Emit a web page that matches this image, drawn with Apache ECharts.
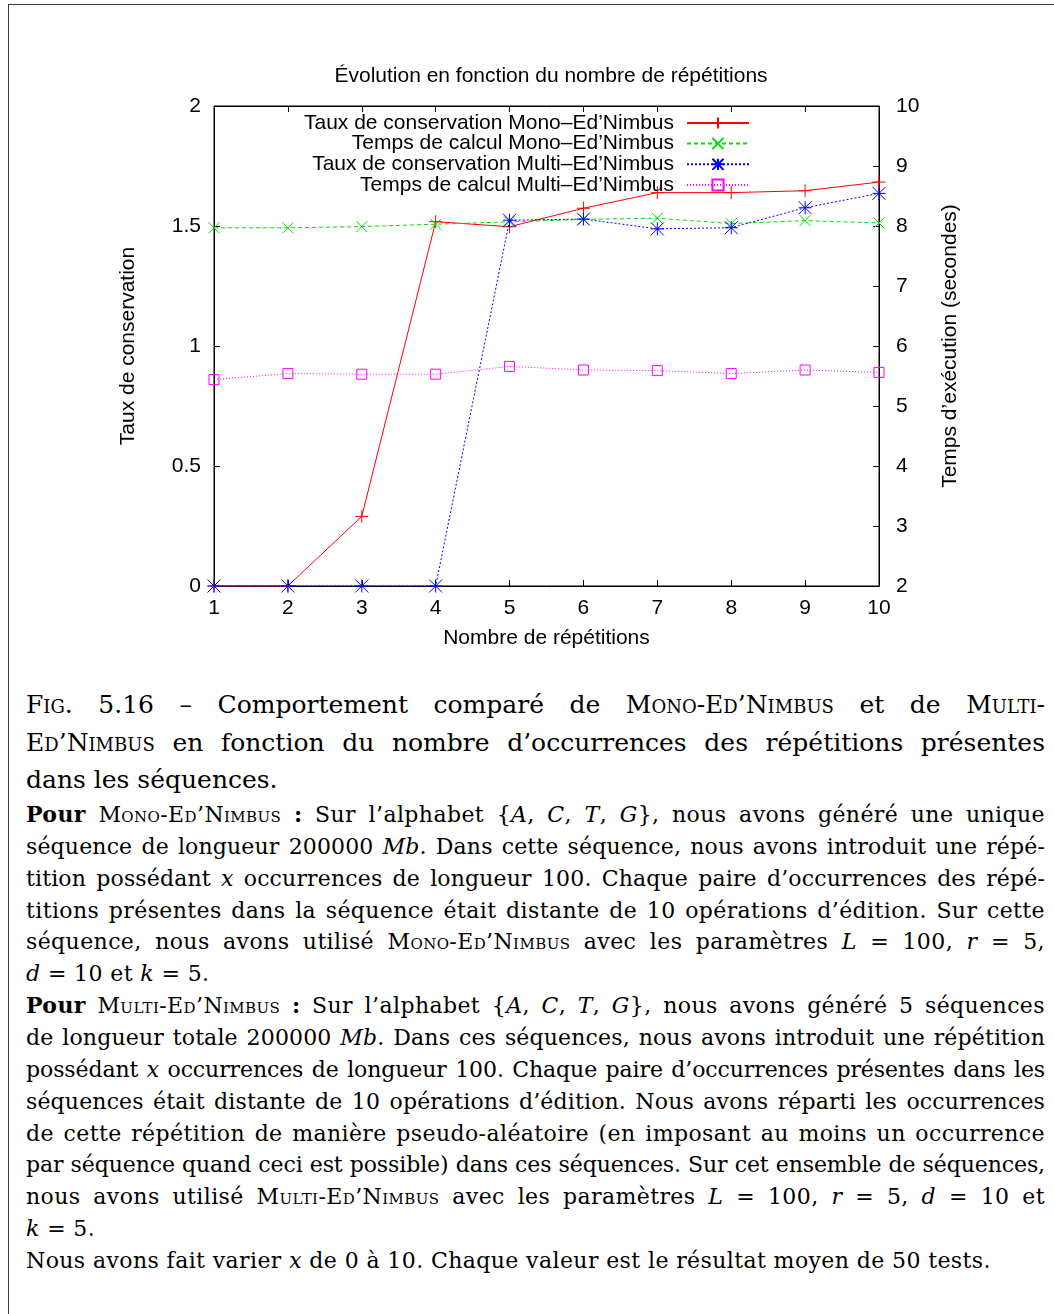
<!DOCTYPE html>
<html>
<head>
<meta charset="utf-8">
<script src="https://cdn.jsdelivr.net/npm/echarts@6/dist/echarts.min.js"></script>
<style>
  html, body { margin: 0; padding: 0; background: #fff; }
  body { width: 1054px; height: 1314px; position: relative; overflow: hidden; }
  #frame { position: absolute; left: 8px; top: 4px; right: -10px; bottom: -10px;
           border-top: 1.5px solid #3a3a3a; border-left: 1.5px solid #3a3a3a; }
  #chart { position: absolute; left: 0; top: 0; width: 1054px; height: 670px; }
  .txt { position: absolute; left: 26px; width: 1019px; font-family: "DejaVu Serif", serif; color: #000; }
  .txt div { text-align: justify; text-align-last: justify; white-space: nowrap; }
  .txt div.l { text-align-last: left; }
  #cap { top: 686px; font-size: 25px; line-height: 37.5px; }
  #body { top: 799px; font-size: 22px; letter-spacing: 0.4px; line-height: 31.86px; }
  #body div.t { letter-spacing: -0.1px; }
  #body div.m { letter-spacing: 0.15px; }
  .sc { font-variant: small-caps; }
  i { font-style: italic; }
</style>
</head>
<body>
<div id="frame"></div>
<div id="chart"></div>
<div class="txt" id="cap">
  <div><span class="sc">Fig.</span> 5.16 – Comportement comparé de <span class="sc">Mono-Ed’Nimbus</span> et de <span class="sc">Multi-</span></div>
  <div><span class="sc">Ed’Nimbus</span> en fonction du nombre d’occurrences des répétitions présentes</div>
  <div class="l">dans les séquences.</div>
</div>
<div class="txt" id="body">
  <div><b>Pour</b> <span class="sc">Mono-Ed’Nimbus</span> <b>:</b> Sur l’alphabet {<i>A</i>, <i>C</i>, <i>T</i>, <i>G</i>}, nous avons généré une unique</div>
  <div class="m">séquence de longueur 200000 <i>Mb</i>. Dans cette séquence, nous avons introduit une répé-</div>
  <div class="m">tition possédant <i>x</i> occurrences de longueur 100. Chaque paire d’occurrences des répé-</div>
  <div>titions présentes dans la séquence était distante de 10 opérations d’édition. Sur cette</div>
  <div>séquence, nous avons utilisé <span class="sc">Mono-Ed’Nimbus</span> avec les paramètres <i>L</i> = 100, <i>r</i> = 5,</div>
  <div class="l"><i>d</i> = 10 et <i>k</i> = 5.</div>
  <div><b>Pour</b> <span class="sc">Multi-Ed’Nimbus</span> <b>:</b> Sur l’alphabet {<i>A</i>, <i>C</i>, <i>T</i>, <i>G</i>}, nous avons généré 5 séquences</div>
  <div class="m">de longueur totale 200000 <i>Mb</i>. Dans ces séquences, nous avons introduit une répétition</div>
  <div class="t">possédant <i>x</i> occurrences de longueur 100. Chaque paire d’occurrences présentes dans les</div>
  <div class="m">séquences était distante de 10 opérations d’édition. Nous avons réparti les occurrences</div>
  <div>de cette répétition de manière pseudo-aléatoire (en imposant au moins un occurrence</div>
  <div class="t">par séquence quand ceci est possible) dans ces séquences. Sur cet ensemble de séquences,</div>
  <div>nous avons utilisé <span class="sc">Multi-Ed’Nimbus</span> avec les paramètres <i>L</i> = 100, <i>r</i> = 5, <i>d</i> = 10 et</div>
  <div class="l"><i>k</i> = 5.</div>
  <div class="l">Nous avons fait varier <i>x</i> de 0 à 10. Chaque valeur est le résultat moyen de 50 tests.</div>
</div>
<script>
// ---- data ----
const repetitions = [1, 2, 3, 4, 5, 6, 7, 8, 9, 10];
const tauxMono   = [0, 0, 0.29, 1.518, 1.497, 1.574, 1.639, 1.639, 1.647, 1.683];
const tempsMono  = [7.97, 7.97, 7.99, 8.03, 8.07, 8.11, 8.13, 8.04, 8.09, 8.05];
const tauxMulti  = [0, 0, 0, 0, 1.524, 1.529, 1.488, 1.493, 1.576, 1.636];
const tempsMulti = [5.44, 5.54, 5.53, 5.53, 5.66, 5.60, 5.59, 5.54, 5.60, 5.56];
const seriesNames = [
  'Taux de conservation Mono–Ed’Nimbus',
  'Temps de calcul Mono–Ed’Nimbus',
  'Taux de conservation Multi–Ed’Nimbus',
  'Temps de calcul Multi–Ed’Nimbus'
];
const leftTicks = { min: 0, max: 2, interval: 0.5 };
const rightTicks = { min: 2, max: 10, interval: 1 };
const xTicks = { min: 1, max: 10, interval: 1 };

// ---- chart ----
const FONT = '"Liberation Sans", Arial, sans-serif';
const FS = 21;
const pairs = arr => repetitions.map((x, i) => [x, arr[i]]);
const PLUS = 'path://M0,5L10,5M5,0L5,10';
const CROSS = 'path://M0,0L10,10M10,0L0,10';
const STAR = 'path://M0,5L10,5M5,0L5,10M0,0L10,10M10,0L0,10';
const SQUARE = 'path://M0,0L10,0L10,10L0,10Z';
const colors = ['#ff0000', '#00e000', '#0000ff', '#ff00ff'];
const symbols = [PLUS, CROSS, STAR, SQUARE];
const sizes = [13, 11, 13, 10];
const lineTypes = ['solid', [4, 3], [2, 2], [1, 2]];
const dataSets = [tauxMono, tempsMono, tauxMulti, tempsMulti];
const yIdx = [0, 1, 0, 1];

const series = dataSets.map((d, k) => ({
  name: seriesNames[k],
  type: 'line',
  xAxisIndex: 0,
  yAxisIndex: yIdx[k],
  data: pairs(d),
  symbol: symbols[k],
  symbolSize: sizes[k],
  showAllSymbol: true,
  clip: false,
  z: 2 + k,
  lineStyle: { color: colors[k], width: 1, type: lineTypes[k] },
  itemStyle: { color: 'rgba(0,0,0,0)', borderColor: colors[k], borderWidth: 1 },
  emphasis: { disabled: true },
  animation: false
}));

const rowCenters = [123, 143.5, 164.3, 185];
const legends = seriesNames.map((n, k) => ({
  data: [n],
  right: 304,
  top: rowCenters[k] - 11,
  padding: 0,
  align: 'right',
  itemWidth: 62,
  itemHeight: 14,
  selectedMode: false,
  textStyle: { fontFamily: FONT, fontSize: FS, color: '#000', lineHeight: 22, padding: [0, 8, 0, 0] }
}));

const axisCommon = {
  axisLine: { show: true, lineStyle: { color: '#000', width: 1 } },
  axisTick: { show: true, inside: true, length: 6, lineStyle: { color: '#000', width: 1 } },
  splitLine: { show: false },
  nameTextStyle: { fontFamily: FONT, fontSize: FS, color: '#000' }
};
const labelStyle = { fontFamily: FONT, fontSize: FS, color: '#000' };

const option = {
  animation: false,
  backgroundColor: 'transparent',
  title: {
    text: 'Évolution en fonction du nombre de répétitions',
    left: 546, top: 61, textAlign: 'center',
    textStyle: { fontFamily: FONT, fontSize: FS, fontWeight: 'normal', color: '#000' }
  },
  legend: legends,
  grid: { left: 214, top: 106, width: 665, height: 480, show: true, borderColor: '#000', borderWidth: 1, containLabel: false },
  xAxis: [
    Object.assign({}, axisCommon, {
      type: 'value', position: 'bottom', min: xTicks.min, max: xTicks.max, interval: xTicks.interval,
      axisLabel: Object.assign({ margin: 12 }, labelStyle),
      name: 'Nombre de répétitions', nameLocation: 'middle', nameGap: 42
    }),
    Object.assign({}, axisCommon, {
      type: 'value', position: 'top', min: xTicks.min, max: xTicks.max, interval: xTicks.interval,
      axisLabel: { show: false }
    })
  ],
  yAxis: [
    Object.assign({}, axisCommon, {
      type: 'value', position: 'left', min: leftTicks.min, max: leftTicks.max, interval: leftTicks.interval,
      axisLabel: Object.assign({ margin: 13 }, labelStyle),
      name: 'Taux de conservation', nameLocation: 'middle', nameRotate: 90, nameGap: 75
    }),
    Object.assign({}, axisCommon, {
      type: 'value', position: 'right', min: rightTicks.min, max: rightTicks.max, interval: rightTicks.interval,
      axisLabel: Object.assign({ margin: 17 }, labelStyle),
      name: 'Temps d’exécution (secondes)', nameLocation: 'middle', nameRotate: 90, nameGap: 61
    })
  ],
  series: series
};

const chart = echarts.init(document.getElementById('chart'), null, { renderer: 'canvas' });
chart.setOption(option);
</script>
</body>
</html>
